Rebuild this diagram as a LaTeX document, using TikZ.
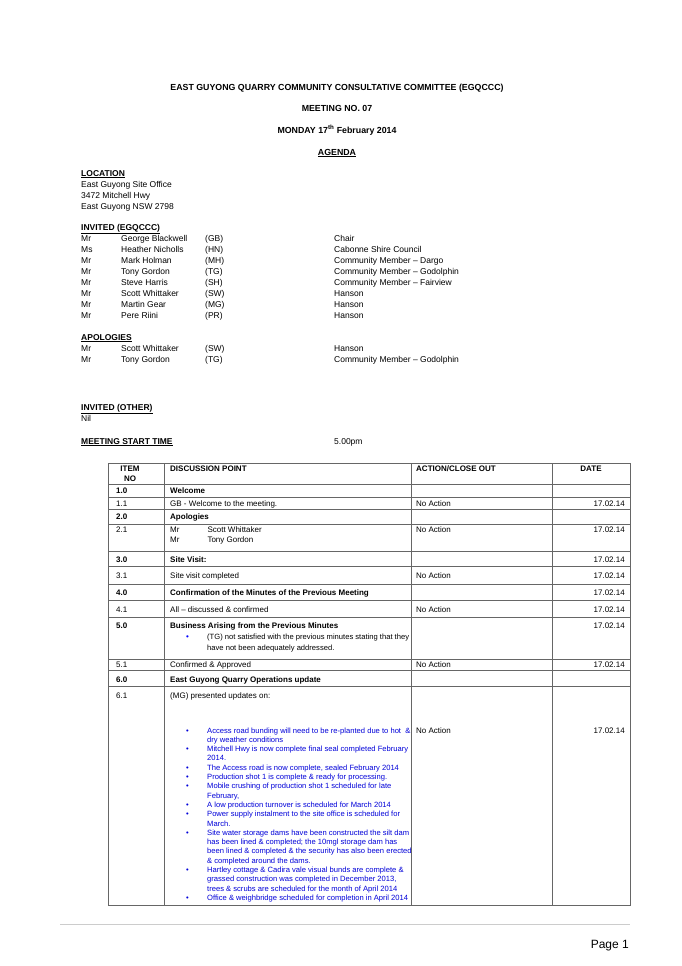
\documentclass[tikz,border=0pt]{standalone}
\usepackage{fontspec}
\setmainfont{Liberation Sans}
\begin{document}
\begin{tikzpicture}[x=1pt,y=-1pt,
  t/.style={anchor=base west,inner sep=0pt,font=\fontsize{8}{9.5}\selectfont},
  tt/.style={anchor=base west,inner sep=0pt,font=\fontsize{8.5}{9.5}\selectfont},
  tb/.style={t,font=\fontsize{8.5}{9.5}\selectfont\bfseries},
  tbt/.style={t,font=\fontsize{8}{9.5}\selectfont\bfseries},
  tc/.style={anchor=base,inner sep=0pt,font=\fontsize{8.8}{9.5}\selectfont\bfseries},
  tcs/.style={anchor=base,inner sep=0pt,font=\fontsize{8}{9.5}\selectfont\bfseries},
  tr/.style={anchor=base east,inner sep=0pt,font=\fontsize{8}{9.5}\selectfont},
  bl/.style={t,text=blue!85!black,font=\fontsize{7.6}{9}\selectfont},
  grid/.style={draw=black!60,line width=0.9pt}]
\useasboundingbox[fill=white] (0,0) rectangle (682,966);
\node[tc] (h1) at (337,90) {EAST GUYONG QUARRY COMMUNITY CONSULTATIVE COMMITTEE (EGQCCC)};
\node[tc] (h2) at (337,111) {MEETING NO. 07};
\node[tc] (h3) at (337,133) {MONDAY 17\textsuperscript{th} February 2014};
\node[tc] (h4) at (337,155) {\underline{AGENDA}};
\node[tb] (loc) at (81,176) {\underline{LOCATION}};
\node[tt] (l1) at (81,187) {East Guyong Site Office};
\node[tt] (l2) at (81,198) {3472 Mitchell Hwy};
\node[tt] (l3) at (81,209) {East Guyong NSW 2798};
\node[tb] (inv) at (81,230) {\underline{INVITED (EGQCCC)}};
\foreach \i/\a/\b/\c/\d in {0/Mr/George Blackwell/(GB)/Chair,1/Ms/Heather Nicholls/(HN)/Cabonne Shire Council,2/Mr/Mark Holman/(MH)/Community Member – Dargo,3/Mr/Tony Gordon/(TG)/Community Member – Godolphin,4/Mr/Steve Harris/(SH)/Community Member – Fairview,5/Mr/Scott Whittaker/(SW)/Hanson,6/Mr/Martin Gear/(MG)/Hanson,7/Mr/Pere Riini/(PR)/Hanson}{
  \node[tt] (ia\i) at (81,241+11*\i) {\a};
  \node[tt] (ib\i) at (121,241+11*\i) {\b};
  \node[tt] (ic\i) at (205,241+11*\i) {\c};
  \node[tt] (id\i) at (334,241+11*\i) {\d};}
\node[tb] (apo) at (81,340) {\underline{APOLOGIES}};
\foreach \i/\a/\b/\c/\d in {0/Mr/Scott Whittaker/(SW)/Hanson,1/Mr/Tony Gordon/(TG)/Community Member – Godolphin}{
  \node[tt] (aa\i) at (81,351+11*\i) {\a};
  \node[tt] (ab\i) at (121,351+11*\i) {\b};
  \node[tt] (ac\i) at (205,351+11*\i) {\c};
  \node[tt] (ad\i) at (334,351+11*\i) {\d};}
\node[tb] (io) at (81,410) {\underline{INVITED (OTHER)}};
\node[tt] (nil) at (81,421) {Nil};
\node[tb] (mst) at (81,444) {\underline{MEETING START TIME}};
\node[tt] (st) at (334,444) {5.00pm};
% table
\draw[grid] (108,463) rectangle (630,905);
\foreach \x in {164,411,552} \draw[grid] (\x,463) -- (\x,905);
\foreach \y in {484,497,509,524,551,566,584,600,617,659,670,686} \draw[grid] (108,\y) -- (630,\y);
\node[tcs] (c1) at (130,471) {ITEM};
\node[tcs] (c1b) at (130,481) {NO};
\node[tbt] (c2) at (170,471) {DISCUSSION POINT};
\node[tbt] (c3) at (416,471) {ACTION/CLOSE OUT};
\node[tcs] (c4) at (591,471) {DATE};
\foreach \y/\n/\txt/\bold/\act/\dt in {
 493/1.0/Welcome/1//,
 506/1.1/GB - Welcome to the meeting./0/No Action/17.02.14,
 519/2.0/Apologies/1//,
 532/2.1/Mr\hspace{28pt}Scott Whittaker/0/No Action/17.02.14,
 562/3.0/Site Visit:/1//17.02.14,
 578/3.1/Site visit completed/0/No Action/17.02.14,
 595/4.0/Confirmation of the Minutes of the Previous Meeting/1//17.02.14,
 612/4.1/All – discussed \& confirmed/0/No Action/17.02.14,
 628/5.0/Business Arising from the Previous Minutes/1//17.02.14,
 667/5.1/Confirmed \& Approved/0/No Action/17.02.14,
 682/6.0/East Guyong Quarry Operations update/1//,
 698/6.1/(MG) presented updates on:/0//}{
  \node[t] (n\n) at (116,\y) {\ifnum\bold=1 \bfseries\fi\n};
  \node[t] (d\n) at (170,\y) {\ifnum\bold=1 \bfseries\fi\txt};
  \node[t] (a\n) at (416,\y) {\act};
  \node[tr] (e\n) at (625,\y) {\dt};}
\node[t] (apo2) at (170,542) {Mr\hspace{28pt}Tony Gordon};
\node[t] (tgb) at (186,639) {\textcolor{blue}{\textbullet}};
\node[t,font=\fontsize{7.6}{9}\selectfont] (tg1) at (207,639) {(TG) not satisfied with the previous minutes stating that they};
\node[t,font=\fontsize{7.6}{9}\selectfont] (tg2) at (207,650) {have not been adequately addressed.};
\node[t] (a61) at (416,733) {No Action};
\node[tr] (e61) at (625,733) {17.02.14};
\foreach \i/\b/\txt in {
 0/1/{Access road bunding will need to be re-planted due to hot \ \&},
 1/0/{dry weather conditions},
 2/1/{Mitchell Hwy is now complete final seal completed February},
 3/0/{2014.},
 4/1/{The Access road is now complete, sealed February 2014},
 5/1/{Production shot 1 is complete \& ready for processing.},
 6/1/{Mobile crushing of production shot 1 scheduled for late},
 7/0/{February,},
 8/1/{A low production turnover is scheduled for March 2014},
 9/1/{Power supply instalment to the site office is scheduled for},
 10/0/{March.},
 11/1/{Site water storage dams have been constructed the silt dam},
 12/0/{has been lined \& completed; the 10mgl storage dam has},
 13/0/{been lined \& completed \& the security has also been erected},
 14/0/{\& completed around the dams.},
 15/1/{Hartley cottage \& Cadira vale visual bunds are complete \&},
 16/0/{grassed construction was completed in December 2013,},
 17/0/{trees \& scrubs are scheduled for the month of April 2014},
 18/1/{Office \& weighbridge scheduled for completion in April 2014}}{
  \node[bl] (b\i) at (207,733+9.3*\i) {\txt};
  \ifnum\b=1 \node[bl] (bb\i) at (186,733+9.3*\i) {\textbullet};\fi}
\draw[draw=black!20,line width=0.6pt] (60,924) -- (630,924);
\node[tr,font=\fontsize{12}{14}\selectfont] (pg) at (629,948) {Page 1};
\end{tikzpicture}
\end{document}
